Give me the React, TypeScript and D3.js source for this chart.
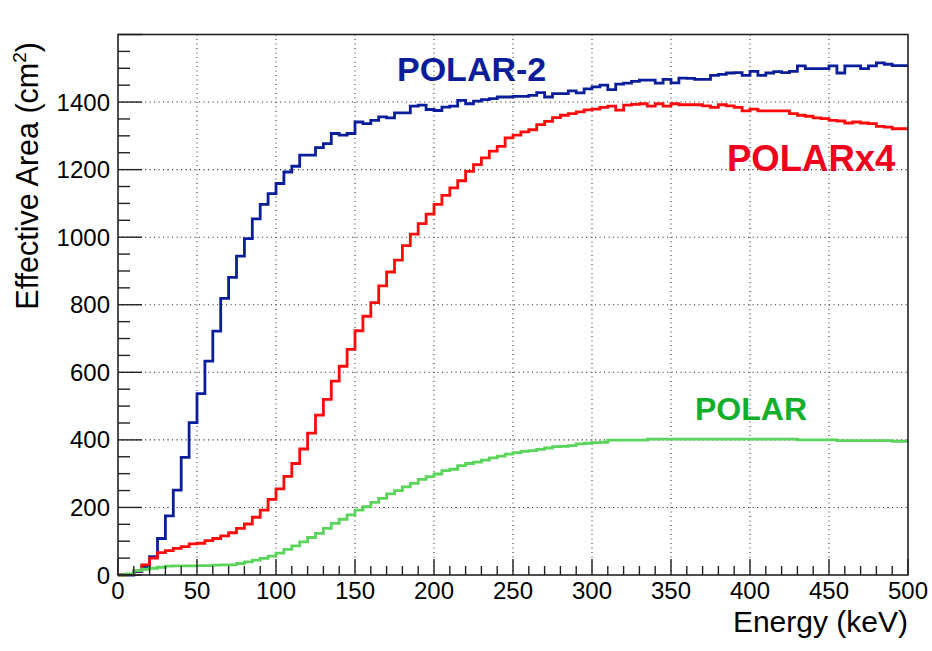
import { useEffect, useRef } from 'react';
import * as d3 from 'd3';

// 100 bins of 5 keV from 0 to 500 keV (effective area, cm^2)
const binWidth = 5;

const polar2 = [
  0, 0, 10, 25, 54, 108, 175, 251, 348, 451,
  537, 633, 722, 819, 881, 944, 996, 1054, 1097, 1129,
  1159, 1193, 1210, 1243, 1243, 1265, 1277, 1307, 1302, 1307,
  1341, 1336, 1346, 1356, 1353, 1368, 1368, 1388, 1391, 1378,
  1375, 1385, 1388, 1405, 1395, 1403, 1407, 1410, 1415, 1415,
  1417, 1417, 1420, 1428, 1415, 1425, 1425, 1433, 1427, 1439,
  1445, 1450, 1437, 1453, 1456, 1461, 1465, 1465, 1456, 1467,
  1457, 1471, 1470, 1467, 1467, 1479, 1482, 1486, 1487, 1479,
  1491, 1479, 1486, 1490, 1487, 1491, 1507, 1499, 1499, 1499,
  1507, 1486, 1507, 1507, 1499, 1507, 1516, 1512, 1508, 1508,
];

const polarx4 = [
  0, 2, 12, 30, 50, 66, 72, 79, 84, 92,
  94, 102, 108, 116, 125, 138, 151, 171, 192, 224,
  255, 292, 330, 373, 420, 473, 520, 574, 618, 668,
  723, 766, 806, 856, 897, 932, 975, 1009, 1040, 1068,
  1097, 1124, 1146, 1167, 1195, 1215, 1235, 1255, 1269, 1294,
  1302, 1312, 1318, 1333, 1343, 1354, 1361, 1366, 1371, 1377,
  1379, 1384, 1388, 1376, 1391, 1393, 1395, 1388, 1395, 1388,
  1395, 1392, 1392, 1392, 1389, 1384, 1392, 1389, 1384, 1374,
  1379, 1374, 1374, 1374, 1374, 1366, 1361, 1358, 1353, 1351,
  1346, 1344, 1338, 1341, 1338, 1336, 1328, 1326, 1321, 1321,
];

const polar = [
  0, 3, 13, 17, 20, 23, 26, 27, 27, 27,
  28, 28, 29, 30, 30, 34, 39, 44, 49, 56,
  65, 76, 86, 98, 111, 123, 138, 153, 165, 178,
  192, 202, 215, 227, 240, 250, 261, 271, 283, 291,
  299, 309, 313, 324, 330, 334, 340, 347, 352, 358,
  362, 366, 368, 372, 376, 380, 381, 383, 388, 390,
  392, 393, 399, 399, 399, 399, 399, 402, 402, 402,
  402, 402, 402, 402, 402, 402, 402, 402, 402, 402,
  402, 402, 402, 402, 402, 402, 400, 400, 400, 400,
  400, 398, 398, 398, 398, 398, 398, 398, 396, 396,
];

const xMajorTicks = [0, 50, 100, 150, 200, 250, 300, 350, 400, 450, 500];
const yMajorTicks = [0, 200, 400, 600, 800, 1000, 1200, 1400];

const series = [
  { name: 'POLAR-2', values: polar2, line: '#0a1e9c', text: '#0a1e9c', lx: 397, ly: 81, size: 34 },
  { name: 'POLARx4', values: polarx4, line: '#ff0a0a', text: '#f0001c', lx: 727, ly: 171, size: 36.5 },
  { name: 'POLAR', values: polar, line: '#5ad45a', text: '#12b02a', lx: 695, ly: 420, size: 32 },
];

export default function App() {
  const ref = useRef<SVGSVGElement>(null);

  useEffect(() => {
    if (!ref.current) return;
    const svg = d3.select(ref.current);
    svg.selectAll('*').remove();

    const left = 118, right = 908, top = 34.5, bottom = 575;
    const font = '"Liberation Sans", Arial, Helvetica, sans-serif';

    const x = d3.scaleLinear().domain([0, 500]).range([left, right]);
    const y = d3.scaleLinear().domain([0, 1600]).range([bottom, top]);

    // Dotted grid
    const grid = svg.append('g').attr('stroke', '#333').attr('stroke-width', 1.1)
      .attr('stroke-dasharray', '1.1,3.4');
    xMajorTicks.filter(t => t > 0 && t < 500).forEach(t => {
      grid.append('line').attr('x1', x(t)).attr('x2', x(t)).attr('y1', top).attr('y2', bottom);
    });
    yMajorTicks.filter(t => t > 0).forEach(t => {
      grid.append('line').attr('x1', left).attr('x2', right).attr('y1', y(t)).attr('y2', y(t));
    });

    // Histograms as step lines
    const line = d3.line<[number, number]>()
      .x(d => x(d[0]))
      .y(d => y(d[1]))
      .curve(d3.curveStepAfter);

    series.forEach(s => {
      const pts: [number, number][] = s.values.map((v, i) => [i * binWidth, v]);
      pts.push([s.values.length * binWidth, s.values[s.values.length - 1]]);
      svg.append('path')
        .attr('d', line(pts))
        .attr('fill', 'none')
        .attr('stroke', s.line)
        .attr('stroke-width', 2.8);
    });

    // Ticks (inside the frame)
    const ticks = svg.append('g').attr('stroke', '#222').attr('stroke-width', 1.4);
    d3.range(0, 501, 10).forEach(t => {
      const len = t % 50 === 0 ? 16 : 9;
      ticks.append('line').attr('x1', x(t)).attr('x2', x(t)).attr('y1', bottom).attr('y2', bottom - len);
    });
    d3.range(0, 1601, 50).forEach(t => {
      const len = t % 200 === 0 ? 24 : 12;
      ticks.append('line').attr('x1', left).attr('x2', left + len).attr('y1', y(t)).attr('y2', y(t));
    });

    // Frame
    svg.append('rect')
      .attr('x', left).attr('y', top)
      .attr('width', right - left).attr('height', bottom - top)
      .attr('fill', 'none').attr('stroke', '#222').attr('stroke-width', 1.6);

    // Tick labels
    svg.append('g').selectAll('text').data(xMajorTicks).enter().append('text')
      .attr('x', d => x(d)).attr('y', 599)
      .attr('text-anchor', 'middle')
      .attr('font-family', font).attr('font-size', 24)
      .text(d => d);

    svg.append('g').selectAll('text').data(yMajorTicks).enter().append('text')
      .attr('x', 110).attr('y', d => y(d) + 8.5)
      .attr('text-anchor', 'end')
      .attr('font-family', font).attr('font-size', 24)
      .text(d => d);

    // Axis titles
    svg.append('text')
      .attr('x', right).attr('y', 632)
      .attr('text-anchor', 'end')
      .attr('font-family', font).attr('font-size', 30)
      .text('Energy (keV)');

    const yt = svg.append('text')
      .attr('transform', 'translate(38,42) rotate(-90)')
      .attr('text-anchor', 'end')
      .attr('font-family', font).attr('font-size', 30.5);
    yt.append('tspan').text('Effective Area (cm');
    yt.append('tspan').attr('font-size', 19).attr('dy', -12).text('2');
    yt.append('tspan').attr('dy', 12).text(')');

    // Series labels
    series.forEach(s => {
      svg.append('text')
        .attr('x', s.lx).attr('y', s.ly)
        .attr('font-family', font).attr('font-weight', 'bold')
        .attr('font-size', s.size)
        .attr('fill', s.text)
        .text(s.name);
    });
  }, []);

  return (
    <svg
      ref={ref}
      width={932}
      height={651}
      style={{ position: 'absolute', left: 0, top: 0, background: '#fff' }}
    />
  );
}
